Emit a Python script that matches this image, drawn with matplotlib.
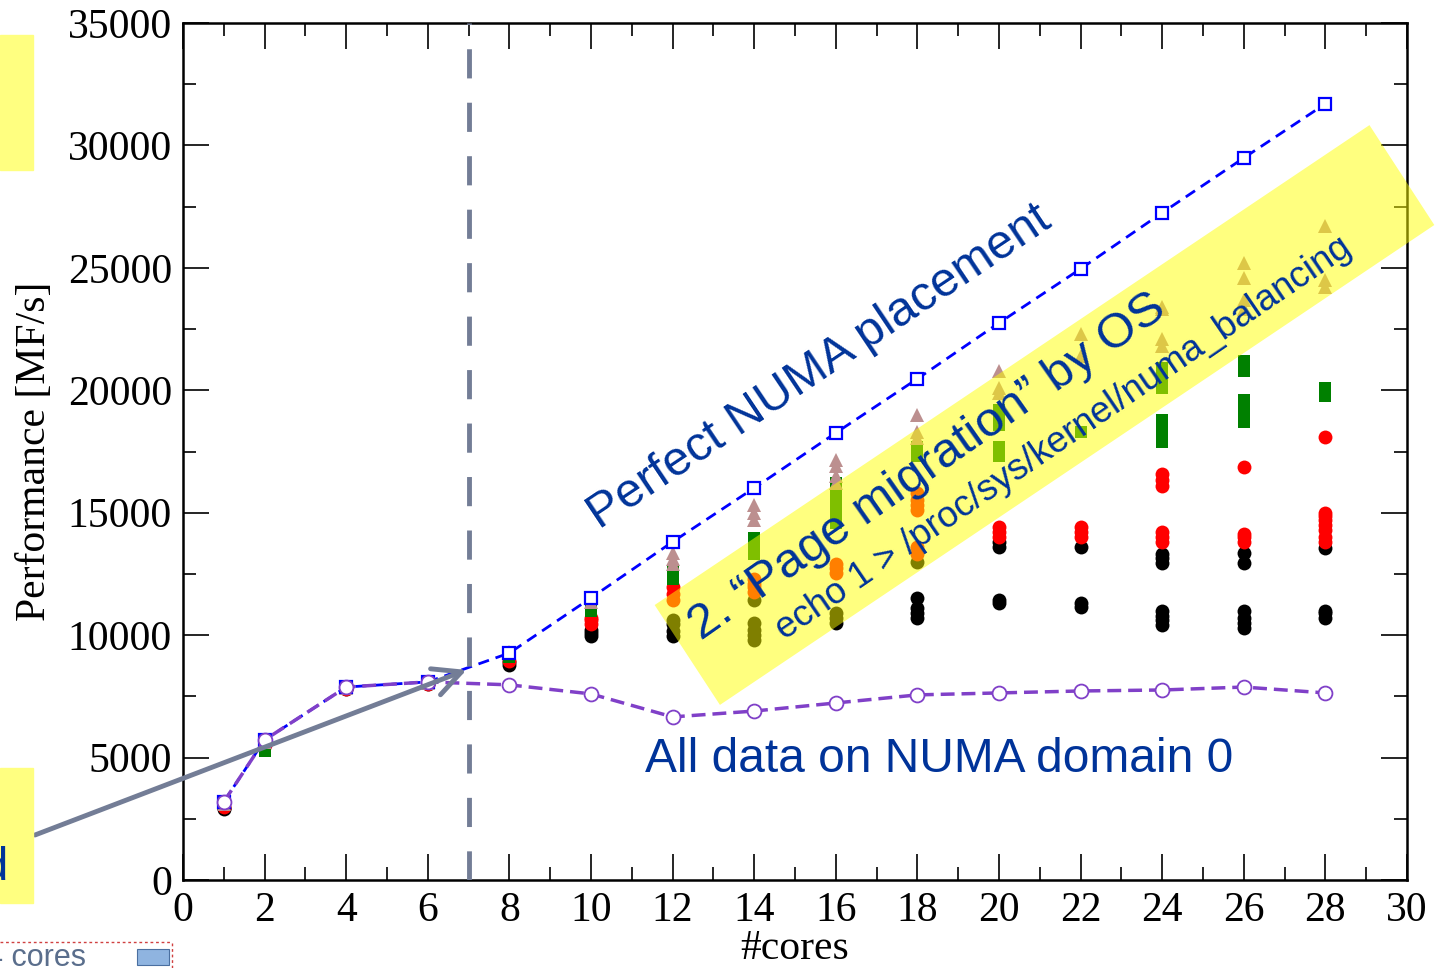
import numpy as np
import matplotlib.pyplot as plt
from matplotlib.patches import Polygon, Rectangle

# thread counts that were measured
cores = [1, 2, 4, 6, 8, 10, 12, 14, 16, 18, 20, 22, 24, 26, 28]

# reference curves [MF/s]
perfect_numa = [3190, 5720, 7880, 8090, 9270, 11520, 13810, 16010, 18260,
                20470, 22750, 24960, 27250, 29490, 31700]
domain0 = [3190, 5720, 7880, 8090, 7970, 7600, 6660, 6900, 7230,
           7560, 7640, 7720, 7760, 7880, 7640]

# repeated runs with automatic page migration, one list per core count
runs_black = [[2900, 2950], [5600], [7800], [8000], [8800, 8900],
              [9950, 10100, 10200], [9950, 10150, 10450, 10600],
              [9800, 10000, 10200, 10500, 11450],
              [10500, 10700, 10900], [10700, 10900, 11100, 11500, 13000],
              [11300, 11450, 13600, 13800], [11150, 11300, 13600],
              [10400, 10600, 10800, 11000, 12950, 13150, 13300],
              [10300, 10500, 10700, 11000, 12950, 13350],
              [10700, 10900, 11000, 13550]]
runs_red = [[3000], [5500], [7800], [8000], [8950], [10450, 10600, 10700],
            [11450, 11700, 11950], [11750, 11950, 12100, 12300],
            [12550, 12750, 12900],
            [13300, 13600, 15100, 15300, 15500, 15800], [14000, 14200, 14400],
            [14000, 14200, 14400], [13800, 14000, 14200, 16100, 16350, 16600],
            [13800, 14000, 14150, 16850],
            [13800, 14000, 14300, 14500, 14700, 14850, 15000, 18100]]
runs_green = [[3050], [5250], [7850], [8050], [9100], [11000, 11200],
              [12300, 12450, 12650], [13300, 13450, 13600, 13800, 13950],
              [14600, 14800, 15000, 15250, 15500, 15700, 15900, 16200],
              [17300, 17500, 17700],
              [17300, 17500, 17700, 18600, 18900, 19200], [18300],
              [17900, 18100, 18400, 18800, 20100, 20500, 20900],
              [18700, 18900, 19100, 19350, 19600, 20800, 21000, 21200],
              [19750, 19950, 20100]]
runs_tri = [[3100], [5650], [7850], [8050], [9300], [11350],
            [12900, 13100, 13350], [14700, 15000, 15300],
            [16200, 16500, 16900, 17150], [18050, 18300, 19000],
            [19900, 20100, 20800], [21400, 22300],
            [21800, 22100, 23300, 23400], [23300, 23700, 24600, 25200],
            [24200, 24500, 26700]]


def flat(runs):
    xs = [c for c, r in zip(cores, runs) for _ in r]
    ys = [v for r in runs for v in r]
    return xs, ys


navy = '#003399'
slate = '#737d96'
serif = ['Liberation Serif', 'DejaVu Serif']
sans = ['Liberation Sans', 'DejaVu Sans']

fig = plt.figure(figsize=(14.37, 9.68), dpi=100)
ax = fig.add_axes([183/1437, 88/968, 1224/1437, 857/968])

for runs, col, mk, ms in [(runs_black, 'black', 'o', 10),
                          (runs_red, '#ff0000', 'o', 10),
                          (runs_green, '#008000', 's', 9),
                          (runs_tri, '#bc8f8f', '^', 10)]:
    xs, ys = flat(runs)
    ax.plot(xs, ys, ls='none', marker=mk, ms=ms, color=col, mew=0, zorder=3)

ax.plot(cores, perfect_numa, ls=(0, (4, 2.5)), lw=2, color='#0000ff',
        marker='s', ms=9, mfc='white', mec='#0000ff', mew=1.6, zorder=4)
ax.plot(cores, domain0, ls=(0, (4, 2)), lw=2.5, color='#8040c8',
        marker='o', ms=10, mfc='white', mec='#8040c8', mew=1.3, zorder=4)

ax.axvline(7, color=slate, lw=3.5, ls=(0, (6, 5)), zorder=5)

# highlighted band
band = Polygon([(11.56, 11230), (29.08, 30830), (30.67, 26750), (13.16, 7150)],
               closed=True, facecolor='#ffff00', alpha=0.5, edgecolor='none',
               zorder=6, clip_on=False)
ax.add_patch(band)

ax.text(10.2, 14300, 'Perfect NUMA placement', rotation=33.8,
        rotation_mode='anchor', ha='left', va='baseline', color=navy,
        fontsize=35, family=sans, zorder=7)
ax.text(12.7, 9750, '2. \u201cPage migration\u201d by OS', rotation=35,
        rotation_mode='anchor', ha='left', va='baseline', color=navy,
        fontsize=35.5, family=sans, zorder=7)
ax.text(14.75, 9800, 'echo 1 > /proc/sys/kernel/numa_balancing', rotation=34.3,
        rotation_mode='anchor', ha='left', va='baseline', color=navy,
        fontsize=26.5, family=sans, zorder=7)
ax.text(11.32, 4410, 'All data on NUMA domain 0', ha='left', va='baseline',
        color=navy, fontsize=34.5, family=sans, zorder=7)

ax.annotate('', xy=(6.95, 8580), xycoords='data', xytext=(35, 133),
            textcoords='figure pixels',
            arrowprops=dict(arrowstyle='->', lw=3.5, color=slate,
                            mutation_scale=50, shrinkA=0, shrinkB=0),
            zorder=8, annotation_clip=False)

ax.set_xlim(0, 30)
ax.set_ylim(0, 35000)
ax.set_xticks(np.arange(0, 31, 2))
ax.set_xticks(np.arange(0, 31, 1), minor=True)
ax.set_yticks(np.arange(0, 35001, 5000))
ax.set_yticks(np.arange(0, 35001, 2500), minor=True)
ax.tick_params(which='both', direction='in', top=True, right=True, width=1.2)
ax.tick_params(which='major', length=19, pad=8)
ax.tick_params(which='minor', length=9.5)
for lab in ax.get_xticklabels() + ax.get_yticklabels():
    lab.set_family(serif)
    lab.set_fontsize(30)
for s in ax.spines.values():
    s.set_linewidth(1.8)

ax.set_ylabel('Performance [MF/s]', family=serif, fontsize=30, labelpad=10)
ax.set_xlabel('#cores', family=serif, fontsize=30, labelpad=0)

# slide pieces at the left edge
fig.patches.append(Rectangle((0, 1 - 170/968), 33/1437, 135/968,
                             transform=fig.transFigure, color='#ffff80'))
fig.patches.append(Rectangle((0, 1 - 903/968), 33/1437, 135/968,
                             transform=fig.transFigure, color='#ffff80'))
fig.text(8/1437, 1 - 880/968, 'd', ha='right', va='baseline', color=navy,
         fontsize=34, family=sans)
fig.text(-14/1437, 1 - 966/968, '4 cores', ha='left', va='baseline',
         color='#5a6e8c', fontsize=22, family=sans)
fig.add_artist(plt.Line2D([0, 172/1437], [1 - 942/968, 1 - 942/968],
                          transform=fig.transFigure, color='#d04040',
                          lw=1, ls=(0, (2, 2))))
fig.add_artist(plt.Line2D([172/1437, 172/1437], [0, 1 - 942/968],
                          transform=fig.transFigure, color='#d04040',
                          lw=1, ls=(0, (2, 2))))
fig.patches.append(Rectangle((137/1437, 3/968), 32/1437, 16/968,
                             transform=fig.transFigure, facecolor='#8fb4e0',
                             edgecolor='#4a6fa0', lw=0.8))

fig.savefig('out.png', dpi=100)
